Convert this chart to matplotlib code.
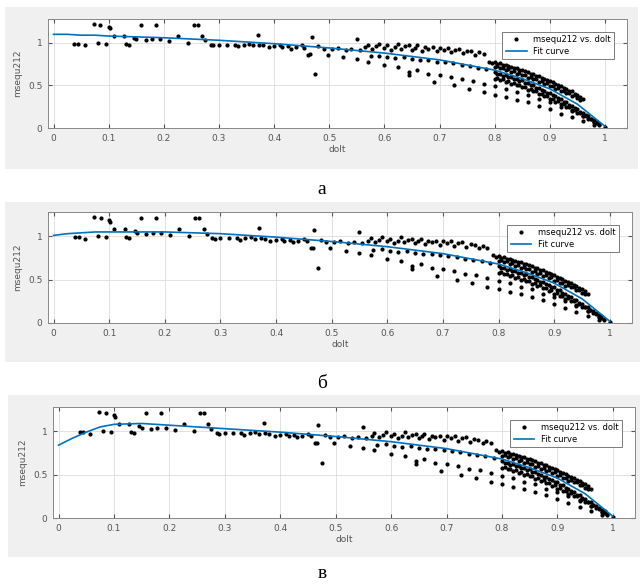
import matplotlib.pyplot as plt
from matplotlib.patches import Rectangle

# datos (dolt, msequ212)
dolt_izq = [0.073, 0.085, 0.100, 0.102, 0.158, 0.185, 0.255, 0.262,
            0.038, 0.045, 0.057, 0.080, 0.095, 0.109, 0.128, 0.131, 0.136,
            0.146, 0.150, 0.167, 0.178, 0.193, 0.210, 0.226, 0.244, 0.270, 0.275]
mseq_izq = [1.22, 1.21, 1.19, 1.17, 1.21, 1.21, 1.21, 1.21,
            0.99, 0.99, 0.97, 1.00, 0.99, 1.08, 1.08, 0.99, 0.98,
            1.06, 1.04, 1.03, 1.04, 1.04, 1.02, 1.08, 1.00, 1.08, 1.03]

dolt_medio = [0.285, 0.290, 0.300, 0.315, 0.330, 0.335, 0.345, 0.355, 0.362, 0.370,
              0.373, 0.380, 0.390, 0.400, 0.410, 0.415, 0.425, 0.430, 0.440, 0.450,
              0.455, 0.462, 0.466, 0.468, 0.475, 0.480, 0.490, 0.497, 0.505, 0.515,
              0.525, 0.530, 0.540, 0.550, 0.550, 0.555]
mseq_medio = [0.98, 0.97, 0.98, 0.98, 0.98, 0.96, 0.98, 0.99, 0.97, 1.09,
              0.98, 0.97, 0.95, 0.96, 0.97, 0.95, 0.96, 0.93, 0.95, 0.97,
              0.94, 0.86, 0.87, 1.07, 0.64, 0.96, 0.93, 0.86, 0.93, 0.94,
              0.83, 0.92, 0.93, 1.05, 0.81, 0.92]

dolt_banda1 = [0.565, 0.570, 0.578, 0.585, 0.590, 0.600, 0.605, 0.612, 0.620, 0.625,
               0.630, 0.638, 0.645, 0.650, 0.655, 0.660, 0.668, 0.673, 0.680, 0.688,
               0.695, 0.700, 0.708, 0.715, 0.720, 0.728, 0.735, 0.742, 0.750, 0.757,
               0.765, 0.772, 0.780]
mseq_banda1 = [0.95, 0.98, 0.93, 0.96, 0.99, 0.94, 0.97, 0.92, 0.95, 0.99,
               0.93, 0.96, 0.97, 0.92, 0.94, 0.97, 0.91, 0.95, 0.93, 0.95,
               0.90, 0.94, 0.92, 0.94, 0.89, 0.92, 0.93, 0.88, 0.91, 0.90,
               0.86, 0.89, 0.87]

dolt_banda2 = [0.575, 0.590, 0.605, 0.620, 0.635, 0.650, 0.665, 0.680, 0.695, 0.710,
               0.725, 0.740, 0.755, 0.770, 0.785]
mseq_banda2 = [0.84, 0.85, 0.83, 0.82, 0.83, 0.81, 0.80, 0.80, 0.78, 0.77,
               0.76, 0.74, 0.73, 0.71, 0.69]

dolt_banda3 = [0.570, 0.600, 0.625, 0.644, 0.660, 0.680, 0.700, 0.720, 0.740, 0.760,
               0.780, 0.800, 0.820, 0.840, 0.860, 0.880, 0.900, 0.920, 0.940, 0.960, 0.980]
mseq_banda3 = [0.78, 0.74, 0.72, 0.66, 0.68, 0.64, 0.62, 0.60, 0.57, 0.55,
               0.52, 0.49, 0.46, 0.42, 0.39, 0.34, 0.30, 0.25, 0.20, 0.14, 0.07]

dolt_banda4 = [0.644, 0.690, 0.726, 0.753, 0.780, 0.800, 0.820, 0.840, 0.860, 0.880,
               0.900, 0.920, 0.940, 0.960, 0.980]
mseq_banda4 = [0.62, 0.54, 0.50, 0.46, 0.42, 0.39, 0.36, 0.33, 0.30, 0.26,
               0.22, 0.17, 0.13, 0.08, 0.04]

# lazo superior (termina cerca de 0.96, 0.33): borde de arriba, borde de abajo y sus filas internas
dolt_lazo1 = [0.790, 0.800, 0.810, 0.820, 0.830, 0.840, 0.850, 0.860, 0.870, 0.880,
              0.890, 0.900, 0.910, 0.920, 0.930, 0.940, 0.950, 0.960,
              0.800, 0.810, 0.820, 0.830, 0.840, 0.850, 0.860, 0.870, 0.880,
              0.890, 0.900, 0.910, 0.920, 0.930, 0.940, 0.950, 0.955,
              0.795, 0.805, 0.815, 0.825, 0.835, 0.845, 0.855, 0.865, 0.875,
              0.885, 0.895, 0.905, 0.915, 0.925, 0.935, 0.945, 0.955,
              0.805, 0.815, 0.825, 0.835, 0.845, 0.855, 0.865, 0.875,
              0.885, 0.895, 0.905, 0.915, 0.925, 0.935, 0.945]
mseq_lazo1 = [0.78, 0.77, 0.76, 0.74, 0.72, 0.70, 0.68, 0.66, 0.63, 0.61,
              0.58, 0.55, 0.52, 0.49, 0.46, 0.43, 0.39, 0.34,
              0.72, 0.70, 0.68, 0.66, 0.64, 0.62, 0.59, 0.57, 0.54,
              0.52, 0.49, 0.46, 0.43, 0.41, 0.38, 0.35, 0.33,
              0.765, 0.755, 0.740, 0.725, 0.705, 0.685, 0.665, 0.640, 0.615,
              0.590, 0.565, 0.535, 0.505, 0.475, 0.440, 0.405, 0.365,
              0.730, 0.710, 0.690, 0.670, 0.650, 0.625, 0.600, 0.575,
              0.550, 0.525, 0.495, 0.465, 0.440, 0.415, 0.385]

# lazo inferior (termina en 1, 0)
dolt_lazo2 = [0.800, 0.810, 0.820, 0.830, 0.840, 0.850, 0.860, 0.870, 0.880, 0.890,
              0.900, 0.910, 0.920, 0.930, 0.940, 0.950, 0.960, 0.970, 0.980, 0.990, 1.000,
              0.800, 0.810, 0.820, 0.830, 0.840, 0.850, 0.860, 0.870, 0.880, 0.890,
              0.900, 0.910, 0.920, 0.930, 0.940, 0.950, 0.960, 0.970, 0.980, 0.990,
              0.805, 0.815, 0.825, 0.835, 0.845, 0.855, 0.865, 0.875, 0.885, 0.895,
              0.905, 0.915, 0.925, 0.935, 0.945, 0.955, 0.965, 0.975, 0.985,
              0.805, 0.815, 0.825, 0.835, 0.845, 0.855, 0.865, 0.875, 0.885, 0.895,
              0.905, 0.915, 0.925, 0.935, 0.945, 0.955, 0.965, 0.975, 0.985]
mseq_lazo2 = [0.66, 0.64, 0.62, 0.60, 0.58, 0.56, 0.53, 0.50, 0.47, 0.44,
              0.41, 0.38, 0.34, 0.30, 0.26, 0.22, 0.18, 0.14, 0.09, 0.05, 0.01,
              0.58, 0.56, 0.54, 0.52, 0.50, 0.48, 0.45, 0.43, 0.40, 0.37,
              0.34, 0.31, 0.28, 0.25, 0.21, 0.18, 0.14, 0.11, 0.07, 0.04,
              0.635, 0.615, 0.595, 0.575, 0.555, 0.530, 0.505, 0.475, 0.445, 0.415,
              0.385, 0.350, 0.310, 0.270, 0.230, 0.190, 0.150, 0.105, 0.060,
              0.590, 0.570, 0.550, 0.530, 0.510, 0.485, 0.460, 0.435, 0.405, 0.375,
              0.345, 0.315, 0.285, 0.250, 0.215, 0.180, 0.145, 0.110, 0.075]

# curvas de ajuste de cada panel
dolt_fit = [0.0, 0.025, 0.05, 0.075, 0.1, 0.15, 0.2, 0.3, 0.4, 0.5, 0.6, 0.7, 0.8, 0.85, 0.9, 0.95, 1.0]
fit_a = [1.10, 1.10, 1.09, 1.09, 1.08, 1.07, 1.06, 1.03, 0.99, 0.94, 0.88, 0.80, 0.68, 0.58, 0.46, 0.28, 0.02]
fit_b = [1.01, 1.03, 1.04, 1.05, 1.05, 1.05, 1.05, 1.03, 0.99, 0.94, 0.88, 0.80, 0.68, 0.58, 0.46, 0.28, 0.02]
fit_c = [0.84, 0.92, 0.99, 1.05, 1.08, 1.09, 1.07, 1.03, 0.99, 0.94, 0.88, 0.80, 0.68, 0.58, 0.46, 0.28, 0.02]

xticks = [0, 0.1, 0.2, 0.3, 0.4, 0.5, 0.6, 0.7, 0.8, 0.9, 1]
xticklabels = ['0', '0.1', '0.2', '0.3', '0.4', '0.5', '0.6', '0.7', '0.8', '0.9', '1']
yticks = [0, 0.5, 1]
letras = ['а', 'б', 'в']

dolt_todo = dolt_izq + dolt_medio + dolt_banda1 + dolt_banda2 + dolt_banda3 + dolt_banda4 + dolt_lazo1 + dolt_lazo2
mseq_todo = mseq_izq + mseq_medio + mseq_banda1 + mseq_banda2 + mseq_banda3 + mseq_banda4 + mseq_lazo1 + mseq_lazo2

W, H = 644, 585
fig = plt.figure(figsize=(W / 100, H / 100), dpi=100)
fig.patch.set_facecolor('white')

# paneles grises (px: izquierda, arriba, derecha, abajo)
paneles = [(5, 7, 638, 169), (5, 202, 640, 362), (8, 395, 640, 557)]
ejes_px = [(48, 19, 627, 128), (48, 212, 632, 323), (53, 407, 635, 518)]
letras_y = [190, 383, 573]
fits = [fit_a, fit_b, fit_c]

for i in range(3):
    l, t, r, b = paneles[i]
    fig.add_artist(Rectangle((l / W, 1 - b / H), (r - l) / W, (b - t) / H,
                             transform=fig.transFigure, facecolor='#f0f0f0',
                             edgecolor='none', zorder=-5))
    l, t, r, b = ejes_px[i]
    ax = fig.add_axes([l / W, 1 - b / H, (r - l) / W, (b - t) / H], zorder=2)
    ax.plot(dolt_todo, mseq_todo, '.', color='black', markersize=4, label='msequ212 vs. dolt')
    ax.plot(dolt_fit, fits[i], '-', color='#0072bd', linewidth=1.2, label='Fit curve')
    ax.set_xlim(-0.01, 1.04)
    ax.set_ylim(0, 1.28)
    ax.set_xticks(xticks)
    ax.set_xticklabels(xticklabels)
    ax.set_yticks(yticks)
    ax.set_yticklabels(['0', '0.5', '1'])
    ax.grid(True, color='#dcdcdc', linewidth=0.6)
    ax.set_axisbelow(True)
    ax.tick_params(direction='in', length=3, labelsize=6.5, colors='#555555',
                   top=True, right=True, pad=4)
    for s in ax.spines.values():
        s.set_color('#888888')
        s.set_linewidth(0.7)
    ax.set_xlabel('dolt', fontsize=6.5, color='#555555', labelpad=2)
    ax.set_ylabel('msequ212', fontsize=6.5, color='#555555', labelpad=4)
    leg = ax.legend(loc='upper right', bbox_to_anchor=(0.985, 0.92), fontsize=6,
                    fancybox=False, framealpha=1, edgecolor='#666666',
                    handlelength=2.5, borderpad=0.4, labelspacing=0.3)
    leg.get_frame().set_linewidth(0.6)
    fig.text(0.5, 1 - letras_y[i] / H, letras[i], ha='center', va='center',
             fontsize=14, family='Liberation Serif')

plt.savefig('out.png', dpi=100)
